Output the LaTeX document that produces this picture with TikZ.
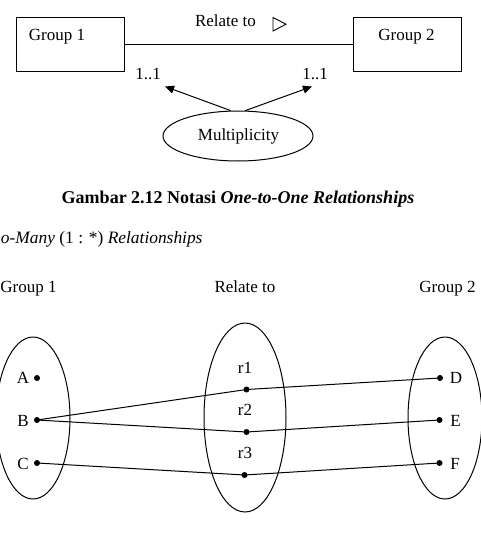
\documentclass[tikz,border=0pt]{standalone}
\usepackage{fontspec}
\setmainfont{Liberation Serif}
\usetikzlibrary{shapes.geometric,arrows.meta}
\begin{document}
\begin{tikzpicture}[x=1pt,y=-1pt,
  line width=1pt,
  txt/.style={inner sep=0pt,anchor=base,font=\fontsize{17}{20}\selectfont},
  box/.style={draw,minimum width=108pt,minimum height=54pt,inner sep=0pt},
  dotn/.style={circle,fill=black,inner sep=0pt,minimum size=6pt},
  oval/.style={draw,ellipse,inner sep=0pt},
  arr/.style={-{Triangle[length=9pt,width=8pt]}}]
\useasboundingbox (0,0) rectangle (481,538);
% ---- top diagram ----
\node[box] (g1) at (70,44) {};
\node[box] (g2) at (407.5,44) {};
\node[txt] (g1t) at (57,40) {Group 1};
\node[txt] (g2t) at (406.5,40) {Group 2};
\draw (g1) -- (g2);
\node[txt] (rel) at (225.5,26) {Relate to};
\draw[line width=0.9pt] (273,17.5) -- (273,31) -- (286,24.2) -- cycle;
\node[txt] (m1) at (148,79) {1..1};
\node[txt] (m2) at (315,79) {1..1};
\node[oval,minimum width=150pt,minimum height=50pt] (mult) at (238,136) {};
\node[txt] (multt) at (238.5,140.5) {Multiplicity};
\coordinate (t1) at (165,86.5);
\coordinate (t2) at (312,86.5);
\draw[arr] (mult.106) -- (t1);
\draw[arr] (mult.74) -- (t2);
% ---- caption ----
\node[txt,font=\fontsize{18}{21}\selectfont] (cap) at (238,203) {\bfseries Gambar 2.12 Notasi \textit{One-to-One Relationships}};
\node[txt,anchor=base east,font=\fontsize{17.4}{20}\selectfont] (sub) at (203,243) {\textit{o-Many} (1 : *) \textit{Relationships}};
% ---- bottom diagram ----
\node[txt] (h1) at (28.5,292) {Group 1};
\node[txt] (h2) at (245,292) {Relate to};
\node[txt] (h3) at (447.5,292) {Group 2};
\node[oval,minimum width=74pt,minimum height=162pt] (e1) at (33,418) {};
\node[oval,minimum width=82pt,minimum height=189pt] (e2) at (245,417.5) {};
\node[oval,minimum width=74pt,minimum height=162pt] (e3) at (445,418) {};
\node[dotn] (A) at (37,378) {};
\node[dotn] (B) at (37,420) {};
\node[dotn] (C) at (37,463) {};
\node[txt] (Al) at (23,383.5) {A};
\node[txt] (Bl) at (23,426) {B};
\node[txt] (Cl) at (23,469) {C};
\node[dotn] (r1) at (246.5,389.5) {};
\node[dotn] (r2) at (246.5,432) {};
\node[dotn] (r3) at (244.5,475) {};
\node[txt] (r1l) at (245,373) {r1};
\node[txt] (r2l) at (245,415) {r2};
\node[txt] (r3l) at (245,458) {r3};
\node[dotn] (D) at (440,378) {};
\node[dotn] (E) at (439.5,420) {};
\node[dotn] (F) at (439.5,463) {};
\node[txt] (Dl) at (456,383.5) {D};
\node[txt] (El) at (455.5,426) {E};
\node[txt] (Fl) at (455,469) {F};
\draw (B.center) -- (r1.center) -- (D.center);
\draw (B.center) -- (r2.center) -- (E.center);
\draw (C.center) -- (r3.center) -- (F.center);
\end{tikzpicture}
\end{document}
